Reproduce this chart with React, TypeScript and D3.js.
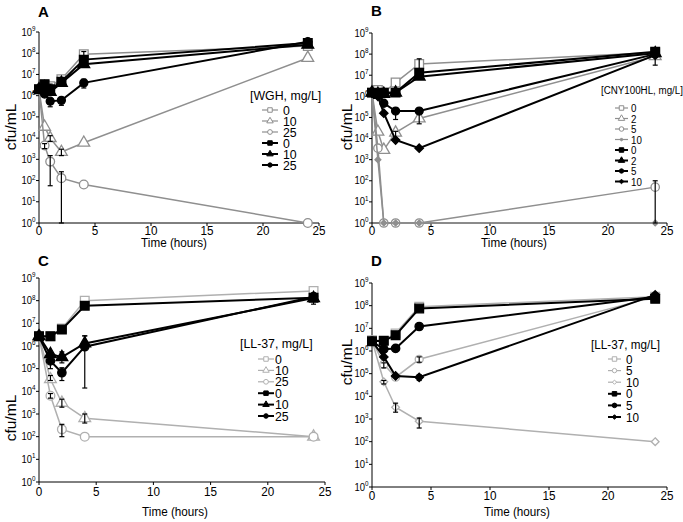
import React from 'react';
import * as d3 from 'd3';

const FONT = '"Liberation Sans", Arial, Helvetica, sans-serif';

// ---------- Panel A : WGH ----------
const timesA = [0, 0.5, 1, 2, 4, 24];
const wghGray0 = [2e6, 3e6, 2.8e6, 6e6, 9e7, 2.2e8];
const wghGray10 = [2e6, 3.4e4, 1e4, 2.2e3, 6e3, 6e7];
const wghGray25 = [2e6, 4.5e3, 780, 130, 65, 1];
const wghBlack0 = [2e6, 3.5e6, 2e6, 4.5e6, 5e7, 3e8];
const wghBlack10 = [2e6, 2.5e6, 1.5e6, 4e6, 3e7, 2.5e8];
const wghBlack25 = [2e6, 1.2e6, 5.5e5, 6e5, 4e6, 3.5e8];
// [series, time index, low, high]
const errA = [
  [2, 1, 3.2e3, 5.5e3], [2, 2, 57, 1.5e3], [2, 3, 1, 260], [1, 3, 1.5e3, 3e3],
  [1, 2, 7e3, 1.3e4], [5, 2, 3e5, 7e5], [5, 3, 3.5e5, 8e5], [5, 4, 2.3e6, 6e6],
  [0, 4, 6e7, 1.2e8], [3, 2, 1.3e6, 3.5e6],
];

// ---------- Panel B : CNY100HL ----------
const timesB = [0, 0.5, 1, 2, 4, 24];
const cnyGray0 = [1.5e6, 2e6, 1.5e6, 4.5e6, 3.4e7, 1.2e8];
const cnyGray2 = [1.5e6, 2.1e4, 2.9e3, 1.9e4, 9e4, 8e7];
const cnyGray5 = [1.5e6, 3.5e3, 1, 1, 1, 50];
const cnyGray10 = [1.5e6, 1e3, 1, 1, 1, 1];
const cnyBlack0 = [1.5e6, 1.3e6, 1.5e6, 1.5e6, 1.3e7, 1.3e8];
const cnyBlack2 = [1.5e6, 1.3e6, 1.3e6, 1.5e6, 8.5e6, 1.1e8];
const cnyBlack5 = [1.5e6, 1.2e6, 4.7e5, 2e5, 2e5, 1e8];
const cnyBlack10 = [1.5e6, 1e6, 1.6e5, 8.5e3, 3.5e3, 9e7];
const errB = [
  [0, 4, 1.5e7, 6e7], [1, 4, 5e4, 1.6e5], [6, 3, 8e4, 2.5e5], [1, 3, 1e4, 2.2e4],
  [2, 5, 1, 100], [1, 5, 3e7, 1.2e8],
];

// ---------- Panel C : LL-37 (set 1) ----------
const timesC = [0, 1, 2, 4, 24];
const llGray0 = [2.7e6, 2.7e6, 6e6, 1e8, 2.7e8];
const llGray10 = [2.7e6, 3.4e4, 3.1e3, 6.5e2, 1e2];
const llGray25 = [2.7e6, 6.4e3, 2.1e2, 1e2, 1e2];
const llBlack0 = [2.7e6, 2.7e6, 5.4e6, 6e7, 1.35e8];
const llBlack10 = [2.7e6, 4.4e5, 3.2e5, 1.3e6, 1.3e8];
const llBlack25 = [2.7e6, 2.2e5, 6.6e4, 9.3e5, 1.5e8];
const errC = [
  [5, 3, 1.4e4, 2.8e6], [4, 3, 8e5, 2.8e6], [5, 1, 1e5, 4e5], [5, 2, 3e4, 1.1e5],
  [4, 2, 1.8e5, 5.5e5], [2, 2, 1e2, 3.5e2], [2, 1, 5e3, 8e3], [1, 2, 2e3, 4.5e3],
  [1, 3, 4e2, 1e3], [1, 1, 3e4, 5e4], [3, 4, 7e7, 2e8],
];

// ---------- Panel D : LL-37 (set 2) ----------
const timesD = [0, 1, 2, 4, 24];
const ldGray0 = [3e6, 3e6, 6e6, 9e7, 2.5e8];
const ldGray5 = [3e6, 2.6e5, 7e4, 4.3e5, 2.5e8];
const ldGray10 = [3e6, 4.4e4, 3.3e3, 8e2, 1e2];
const ldBlack0 = [2.7e6, 2.8e6, 5e6, 7.5e7, 2e8];
const ldBlack5 = [2.7e6, 1.2e6, 1.3e6, 1.2e7, 2.5e8];
const ldBlack10 = [2.7e6, 5.5e5, 7.9e4, 6.9e4, 3e8];
const errD = [
  [1, 1, 1.8e5, 3e5], [1, 3, 3.2e5, 5.5e5], [2, 1, 3.5e4, 5e4], [2, 2, 2e3, 5e3],
  [2, 3, 4e2, 1.1e3], [5, 3, 5e4, 9e4],
];

const xTicks = [0, 5, 10, 15, 20, 25];
const yPowers = [0, 1, 2, 3, 4, 5, 6, 7, 8, 9];

type Shape = 'square' | 'triangle' | 'circle' | 'diamond';
type Series = { label: string; values: number[]; shape: Shape; dark: boolean; size: number; fillGray?: boolean };

const symType = (s: Shape) =>
  s === 'square' ? d3.symbolSquare
    : s === 'triangle' ? d3.symbolTriangle
      : s === 'circle' ? d3.symbolCircle
        : ((d3 as any).symbolDiamond2 ?? d3.symbolDiamond);

const sym = (s: Shape, size: number) => d3.symbol().type(symType(s)).size(size)() as string;

const Txt = ({ x, y, size, anchor = 'start', weight = 'normal', sx = 0.9, children }: any) => (
  <g transform={`translate(${x},${y}) scale(${sx},1)`}>
    <text fontFamily={FONT} fontSize={size} textAnchor={anchor} fontWeight={weight} fill="#000">
      {children}
    </text>
  </g>
);

type PanelProps = {
  letter: string; letterPos: [number, number];
  times: number[]; series: Series[]; errs: number[][]; gray: string;
  x0: number; x1: number; yTop: number; yBot: number;
  tickY: number; timePos: [number, number]; cfuPos: [number, number];
  lg: { title: string; tx: number; ty: number; l0: number; l1: number; lt: number; y0: number; dy: number; font: number; sx: number };
};

function Panel(p: PanelProps) {
  const x = d3.scaleLinear().domain([0, 25]).range([p.x0, p.x1]);
  const y = d3.scaleLog().domain([1, 1e9]).range([p.yBot, p.yTop]);
  const line = d3.line<number>().x((_, i) => x(p.times[i])).y(v => y(v));
  const col = (s: Series) => (s.dark ? '#000' : p.gray);
  const order = [...p.series.filter(s => !s.dark), ...p.series.filter(s => s.dark)];

  const marker = (s: Series, cx: number, cy: number, size: number, key: any, sw = 1.3) => (
    <path key={key} d={sym(s.shape, size)} transform={`translate(${cx},${cy})`}
      fill={s.dark ? '#000' : s.fillGray ? p.gray : '#fff'}
      stroke={col(s)} strokeWidth={sw} />
  );

  return (
    <g>
      <Txt x={p.letterPos[0]} y={p.letterPos[1]} size={15} weight="bold" sx={1}>{p.letter}</Txt>
      {/* axes */}
      <line x1={p.x0} x2={p.x0} y1={p.yTop} y2={p.yBot} stroke="#000" strokeWidth={1} />
      <line x1={p.x0} x2={p.x1} y1={p.yBot} y2={p.yBot} stroke="#000" strokeWidth={1} />
      {yPowers.map(k => (
        <g key={'y' + k}>
          <line x1={p.x0 - 3} x2={p.x0} y1={y(10 ** k)} y2={y(10 ** k)} stroke="#000" />
          <g transform={`translate(${p.x0 - 3.5},${y(10 ** k) + 3.5}) scale(0.9,1)`}>
            <text fontFamily={FONT} fontSize={10.5} textAnchor="end">
              10<tspan dy={-4.5} fontSize={7}>{k}</tspan>
            </text>
          </g>
        </g>
      ))}
      {xTicks.map(t => (
        <g key={'x' + t}>
          <line x1={x(t)} x2={x(t)} y1={p.yBot} y2={p.yBot + 3} stroke="#000" />
          <Txt x={x(t)} y={p.tickY} size={13} anchor="middle">{t}</Txt>
        </g>
      ))}
      <Txt x={p.timePos[0]} y={p.timePos[1]} size={13} anchor="middle">Time (hours)</Txt>
      <g transform={`translate(${p.cfuPos[0]},${p.cfuPos[1]}) rotate(-90)`}>
        <text fontFamily={FONT} fontSize={15.5} textAnchor="middle" dy={5}>cfu/mL</text>
      </g>

      {/* series */}
      {order.map((s, si) => (
        <g key={'s' + si}>
          <path d={line(s.values) as string} fill="none" stroke={col(s)} strokeWidth={s.dark ? 2 : 1.5} />
          {s.values.map((v, i) => marker(s, x(p.times[i]), y(v), s.size, i))}
        </g>
      ))}

      {/* error bars */}
      {p.errs.map(([si, ti, lo, hi], i) => {
        const cx = x(p.times[ti]);
        return (
          <g key={'e' + i} stroke="#000" strokeWidth={1.2}>
            <line x1={cx} x2={cx} y1={y(lo)} y2={y(hi)} />
            <line x1={cx - 2.5} x2={cx + 2.5} y1={y(lo)} y2={y(lo)} />
            <line x1={cx - 2.5} x2={cx + 2.5} y1={y(hi)} y2={y(hi)} />
          </g>
        );
      })}

      {/* legend */}
      <Txt x={p.lg.tx} y={p.lg.ty} size={p.lg.font} sx={p.lg.sx}>{p.lg.title}</Txt>
      {p.series.map((s, i) => {
        const cy = p.lg.y0 + i * p.lg.dy;
        return (
          <g key={'l' + i}>
            <line x1={p.lg.l0} x2={p.lg.l1} y1={cy} y2={cy} stroke={col(s)} strokeWidth={s.dark ? 2 : 1.2} />
            {marker(s, (p.lg.l0 + p.lg.l1) / 2, cy, Math.min(s.size * 0.3, 20), 'm', 1)}
            <Txt x={p.lg.lt} y={cy + p.lg.font * 0.36} size={p.lg.font} sx={p.lg.sx}>{s.label}</Txt>
          </g>
        );
      })}
    </g>
  );
}

export default function App() {
  const seriesA: Series[] = [
    { label: '0', values: wghGray0, shape: 'square', dark: false, size: 75 },
    { label: '10', values: wghGray10, shape: 'triangle', dark: false, size: 60 },
    { label: '25', values: wghGray25, shape: 'circle', dark: false, size: 60 },
    { label: '0', values: wghBlack0, shape: 'square', dark: true, size: 75 },
    { label: '10', values: wghBlack10, shape: 'triangle', dark: true, size: 60 },
    { label: '25', values: wghBlack25, shape: 'circle', dark: true, size: 50 },
  ];
  const seriesB: Series[] = [
    { label: '0', values: cnyGray0, shape: 'square', dark: false, size: 75 },
    { label: '2', values: cnyGray2, shape: 'triangle', dark: false, size: 60 },
    { label: '5', values: cnyGray5, shape: 'circle', dark: false, size: 55 },
    { label: '10', values: cnyGray10, shape: 'diamond', dark: false, size: 22, fillGray: true },
    { label: '0', values: cnyBlack0, shape: 'square', dark: true, size: 75 },
    { label: '2', values: cnyBlack2, shape: 'triangle', dark: true, size: 60 },
    { label: '5', values: cnyBlack5, shape: 'circle', dark: true, size: 50 },
    { label: '10', values: cnyBlack10, shape: 'diamond', dark: true, size: 45 },
  ];
  const seriesC: Series[] = [
    { label: '0', values: llGray0, shape: 'square', dark: false, size: 75 },
    { label: '10', values: llGray10, shape: 'triangle', dark: false, size: 60 },
    { label: '25', values: llGray25, shape: 'circle', dark: false, size: 60 },
    { label: '0', values: llBlack0, shape: 'square', dark: true, size: 75 },
    { label: '10', values: llBlack10, shape: 'triangle', dark: true, size: 60 },
    { label: '25', values: llBlack25, shape: 'circle', dark: true, size: 55 },
  ];
  const seriesD: Series[] = [
    { label: '0', values: ldGray0, shape: 'square', dark: false, size: 75 },
    { label: '5', values: ldGray5, shape: 'circle', dark: false, size: 50 },
    { label: '10', values: ldGray10, shape: 'diamond', dark: false, size: 38 },
    { label: '0', values: ldBlack0, shape: 'square', dark: true, size: 75 },
    { label: '5', values: ldBlack5, shape: 'circle', dark: true, size: 55 },
    { label: '10', values: ldBlack10, shape: 'diamond', dark: true, size: 45 },
  ];

  return (
    <svg width={683} height={522} style={{ position: 'absolute', left: 0, top: 0, background: '#fff' }}>
      <rect width={683} height={522} fill="#fff" />
      <Panel letter="A" letterPos={[38, 17]} times={timesA} series={seriesA} errs={errA} gray="#8f8f8f"
        x0={39} x1={319} yTop={32} yBot={223} tickY={235} timePos={[174, 247]} cfuPos={[11, 127]}
        lg={{ title: '[WGH, mg/L]', tx: 250, ty: 100, l0: 262, l1: 278, lt: 283, y0: 110, dy: 11, font: 13, sx: 0.95 }} />
      <Panel letter="B" letterPos={[371, 16]} times={timesB} series={seriesB} errs={errB} gray="#8f8f8f"
        x0={372} x1={667} yTop={33} yBot={223} tickY={235} timePos={[514, 247]} cfuPos={[347, 127]}
        lg={{ title: '[CNY100HL, mg/L]', tx: 601, ty: 94, l0: 615, l1: 628, lt: 631, y0: 108, dy: 10.5, font: 11.5, sx: 0.85 }} />
      <Panel letter="C" letterPos={[38, 266]} times={timesC} series={seriesC} errs={errC} gray="#b0b0b0"
        x0={39} x1={325} yTop={278} yBot={482} tickY={496} timePos={[175, 516]} cfuPos={[11, 418]}
        lg={{ title: '[LL-37, mg/L]', tx: 240, ty: 348, l0: 258, l1: 274, lt: 275, y0: 359, dy: 11.4, font: 13, sx: 0.95 }} />
      <Panel letter="D" letterPos={[371, 266]} times={timesD} series={seriesD} errs={errD} gray="#b0b0b0"
        x0={372} x1={667} yTop={283} yBot={487} tickY={500} timePos={[517, 516]} cfuPos={[347, 362]}
        lg={{ title: '[LL-37, mg/L]', tx: 591, ty: 349, l0: 608, l1: 621, lt: 626, y0: 359, dy: 11.6, font: 13, sx: 0.9 }} />
    </svg>
  );
}
